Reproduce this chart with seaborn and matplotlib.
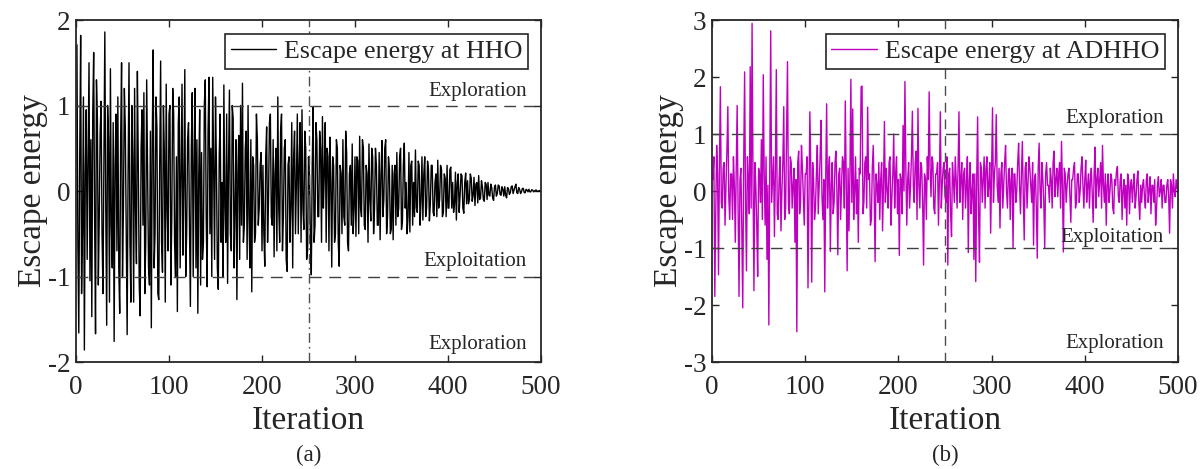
import matplotlib
matplotlib.use("Agg")
import matplotlib.pyplot as plt
import seaborn as sns
import pandas as pd
import numpy as np

# Escape energy, iterations 1..500
iterations = list(range(1, 501))

hho_energy = [
    1.71, -0.6, -1.66, 0.4, 1.82, -1.2, -0.45, 1.1, -1.86, 0.2, 0.95, -0.8, 0.35, 1.5, -1.05, 0.6, -1.47, 0.9, 1.62, -0.3,
    -1.67, 1.3, 0.85, -1.1, -0.3, 0.7, 1.05, -0.5, -1.2, 0.4, 1.86, -0.2, -1.57, 1.0, 0.6, -1.3, 1.43, -0.4, -0.9, 0.8,
    -1.76, 0.3, 0.9, -0.7, 1.1, -0.9, -1.43, 0.6, 1.5, -1.0, -0.2, 1.2, 0.75, -0.5, -1.68, 0.2, 1.5, -0.6, -1.3, 1.0,
    0.4, -1.3, 1.2, -0.2, -0.85, 1.4, 0.3, -1.1, -1.46, 0.5, 0.95, -0.4, 1.15, -1.2, -0.6, 1.3, 0.2, -0.9, -1.1, 0.7,
    -1.6, 0.6, 1.65, -0.9, -0.5, 1.1, 0.75, -1.2, -1.27, 0.3, 1.52, -0.6, -0.95, 1.0, 0.45, -1.3, 1.25, -0.2, -0.7, 0.9,
    1.0, -1.1, -0.3, 1.2, 0.9, -0.6, -1.0, 0.4, -1.41, 0.8, 1.1, -0.9, 0.2, 1.25, -0.75, 0.1, 1.42, -1.0, -0.5, 0.6,
    0.8, -0.4, -1.35, 0.5, 1.15, -1.0, 0.3, 1.2, -0.9, 0.6, -1.43, 0.2, 0.95, -1.1, 0.45, -0.8, -0.6, 1.0, 1.3, -0.3,
    -1.12, 0.7, 1.33, -0.5, 0.5, -1.0, 1.33, 0.2, -0.8, 1.1, 0.3, -0.9, -1.15, 0.4, 0.9, -0.6, 0.1, -1.0, 1.24, -0.2,
    -0.6, 0.9, -1.08, 0.3, 1.18, -0.5, -0.7, 1.0, 0.85, -0.9, -0.2, 0.6, -1.27, 0.2, 0.65, -0.8, 1.0, -0.4, 1.26, -0.6,
    -0.4, 0.5, 0.7, -0.8, 1.0, -0.3, -0.9, 0.6, -1.18, 0.4, 0.3, -0.6, -0.5, 0.9, 0.6, -0.4, -0.2, 0.3, 0.45, -0.7,
    0.3, -0.5, -0.88, 0.4, 0.75, -0.6, -0.1, 0.8, 0.9, -0.3, -0.4, 0.6, -0.77, 0.2, 0.5, -0.7, 1.1, -0.2, -0.6, 0.7,
    0.9, -0.7, -0.3, 0.5, 0.6, -0.8, -0.94, 0.3, 0.4, -0.6, -0.2, 0.8, -0.9, 0.4, 0.7, -0.5, 0.1, 0.9, -0.5, 0.3,
    0.8, -0.6, 0.95, -0.2, -0.45, 0.7, 0.5, -0.8, -0.7, 0.4, 0.2, -0.5, -0.98, 0.3, 0.98, -0.6, -0.4, 0.8, 0.6, -0.3,
    -0.3, 0.7, 0.5, -0.6, 0.87, -0.2, 0.2, 0.8, -0.6, 0.5, 0.4, -0.7, 0.63, 0.1, -0.89, 0.4, 0.3, -0.6, -0.5, 0.6,
    0.5, -0.6, -0.88, 0.3, 0.2, -0.5, 0.6, -0.3, -0.4, 0.7, 0.45, -0.6, -0.7, 0.2, 0.3, -0.4, 0.55, -0.5, -0.2, 0.4,
    -0.53, 0.4, 0.35, -0.5, 0.64, -0.2, -0.3, 0.6, 0.5, -0.4, -0.45, 0.3, 0.2, -0.6, 0.55, -0.1, -0.35, 0.5, 0.4, -0.5,
    -0.2, 0.5, 0.3, -0.4, -0.4, 0.45, -0.57, 0.2, 0.59, -0.3, -0.1, 0.5, 0.6, -0.5, -0.3, 0.4, 0.25, -0.5, -0.45, 0.3,
    -0.57, 0.2, 0.3, -0.4, 0.45, -0.3, -0.2, 0.4, 0.5, -0.45, -0.35, 0.3, 0.56, -0.2, 0.1, -0.5, -0.3, 0.45, -0.48, 0.3,
    0.35, -0.4, 0.1, -0.3, 0.48, -0.2, -0.25, 0.35, 0.3, -0.4, -0.1, 0.4, -0.34, 0.2, 0.4, -0.3, -0.2, 0.35, 0.25, -0.35,
    -0.15, 0.3, 0.3, -0.25, -0.29, 0.1, 0.2, -0.3, 0.36, -0.2, -0.1, 0.3, 0.25, -0.3, -0.25, 0.2, 0.15, -0.3, 0.3, -0.2,
    -0.2, 0.25, 0.28, -0.2, 0.1, -0.25, -0.15, 0.22, -0.34, 0.1, 0.2, -0.25, -0.05, 0.2, 0.18, -0.2, -0.26, 0.1, 0.21, -0.15,
    0.12, -0.15, -0.1, 0.2, 0.15, -0.12, -0.05, 0.16, -0.17, 0.08, 0.1, -0.14, 0.18, -0.1, -0.08, 0.12, 0.05, -0.1, -0.12, 0.1,
    0.08, -0.1, 0.1, -0.05, -0.06, 0.08, 0.04, -0.08, -0.11, 0.05, 0.07, -0.06, -0.03, 0.07, 0.06, -0.04, -0.05, 0.05, 0.02, -0.06,
    0.05, -0.05, -0.08, 0.04, 0.03, -0.04, -0.02, 0.05, 0.06, -0.03, 0.01, 0.05, 0.08, -0.02, -0.03, 0.04, 0.02, -0.03, -0.01, 0.03,
    0.03, -0.02, -0.02, 0.02, 0.01, -0.01, 0.02, -0.01, -0.01, 0.015, 0.01, -0.01, 0.0, 0.01, 0.01, -0.005, -0.005, 0.005, 0.0, 0.0,
]

adhho_energy = [
    0.2, 0.6, -1.85, -0.4, 0.8, 0.3, -1.47, 0.5, 1.83, -0.2, -0.3, 0.4, 0.5, -0.6, 0.1, 0.7, 1.48, -0.1, -0.5, 0.3,
    0.3, -0.5, 0.6, 0.1, -0.9, 0.4, 1.5, -0.3, -1.85, 0.2, 0.4, -0.7, -2.05, 0.5, 2.09, -0.2, -1.4, 0.6, 0.2, -0.4,
    2.18, -0.3, 2.94, 0.2, -1.75, 0.5, 0.1, -0.6, -1.5, 0.4, 0.3, -0.2, 0.9, -0.5, 2.04, 0.3, -0.6, 0.6, -1.2, 0.1,
    -2.35, 0.4, 2.81, -0.2, 0.2, 0.6, -0.8, 0.3, 2.13, -0.4, -0.5, 0.2, 0.6, -0.7, 0.0, 0.5, 1.48, -0.5, -0.3, 1.0,
    2.27, -0.2, -0.4, 0.6, 0.5, -0.3, 0.1, 0.4, -0.9, 0.2, -2.47, 0.5, 0.7, -0.4, -0.2, 0.8, 0.4, -0.1, -0.6, 0.3,
    0.3, 0.6, -1.7, -0.2, 1.39, 0.4, -1.6, 0.5, 0.2, -0.5, -0.3, 0.3, 0.8, -0.4, 0.1, 0.6, 1.24, -0.1, -0.5, 0.2,
    -1.77, 0.2, 1.53, -0.3, 0.3, 0.6, -1.06, 0.1, 0.5, -0.4, -0.2, 0.5, 0.7, 0.0, -1.12, 0.3, 0.4, -0.5, 0.1, 0.6,
    0.5, -0.3, 1.58, 0.2, -1.4, 0.4, -0.7, 0.3, 1.96, -0.2, 1.44, -0.5, 0.0, 0.6, -0.4, 0.2, -0.9, 0.4, 0.3, 1.83,
    1.84, -0.4, -0.19, 0.5, 0.6, -0.3, 1.47, 0.2, 0.3, -0.6, -0.5, 0.4, 0.8, 0.0, -1.24, 0.3, 0.1, -0.2, 0.5, -0.5,
    0.2, 0.5, -0.7, 0.1, 1.22, -0.2, 0.4, 0.0, -0.3, 0.5, 0.6, -0.6, -0.1, 0.3, 1.0, -0.3, 0.3, 0.6, -0.4, 0.2,
    -1.13, 0.3, 0.2, -0.4, 1.15, 0.0, 1.92, 0.4, -0.6, 0.2, 0.5, -0.3, 0.1, 0.6, 1.4, 0.1, -0.2, 0.5, 0.7, -0.5,
    1.45, 0.1, -0.3, 0.5, 0.4, -0.2, -1.3, 0.3, 0.2, -0.5, 0.6, 0.2, 1.74, 0.4, -0.1, 0.6, 0.5, -0.3, -0.4, 0.3,
    0.3, 0.5, -0.6, 0.2, 1.39, -0.3, 0.1, 0.4, 0.5, -0.1, -0.2, 0.6, -1.3, 0.3, 0.4, -0.4, -0.8, 0.5, 0.2, -0.2,
    0.6, 0.2, -0.3, 0.4, 1.39, -0.2, 0.2, 0.5, -0.5, 0.3, 0.4, -0.3, 0.1, 0.6, -1.08, 0.2, 0.5, -0.4, 0.0, 0.3,
    -1.2, 0.3, -1.59, 0.2, 1.3, -0.4, -1.25, 0.5, 0.4, -0.2, 0.2, 0.6, -0.3, 0.4, 0.6, -0.1, 0.1, 0.5, -0.74, 0.3,
    1.46, -0.2, 0.3, 0.5, 1.34, 0.1, -0.2, 0.4, -0.65, 0.3, 0.5, -0.3, 0.1, 0.5, 0.8, 0.0, -0.3, 0.3, 0.4, -0.5,
    0.2, 0.4, -1.0, 0.3, 0.3, -0.2, 0.0, 0.5, 0.84, 0.1, -0.4, 0.3, 0.87, -0.1, -0.86, 0.4, 0.5, -0.3, 0.1, 0.6,
    0.4, 0.1, -0.2, 0.5, -0.95, 0.2, 0.3, -0.3, -1.18, 0.4, 0.84, 0.0, -0.3, 0.5, 0.2, -0.2, -1.0, 0.3, 0.5, 0.1,
    0.1, -0.2, 0.4, 0.2, -0.3, 0.5, 0.7, -0.1, 0.2, 0.4, -0.1, 0.3, 0.5, -0.3, 0.87, 0.1, -1.07, 0.4, 0.3, -0.2,
    0.1, 0.3, 0.4, -0.1, -0.55, 0.2, 0.2, 0.4, 0.5, -0.3, -0.2, 0.3, 0.3, -0.2, 0.0, 0.4, 0.6, 0.1, -0.3, 0.2,
    0.54, -0.2, 0.1, 0.3, -0.3, 0.2, 0.4, -0.1, -0.55, 0.3, 0.77, -0.3, 0.2, 0.4, -0.1, 0.2, 0.5, -0.3, 0.8, 0.1,
    -0.2, 0.3, -0.6, 0.1, 0.3, -0.2, 0.0, 0.3, 0.2, -0.3, -0.4, 0.2, 0.1, 0.35, 0.43, -0.1, -0.2, 0.2, 0.3, -0.5,
    0.0, 0.2, -0.3, 0.1, -0.6, 0.3, 0.2, -0.4, 0.1, 0.2, -0.2, 0.1, 0.3, -0.3, -0.1, 0.2, 0.35, -0.2, -0.5, 0.1,
    -0.2, 0.1, 0.2, -0.1, -0.3, 0.2, 0.3, -0.2, 0.0, 0.25, -0.4, 0.1, 0.1, -0.2, 0.2, -0.6, -0.3, 0.1, 0.25, -0.1,
    0.0, 0.2, -0.3, 0.1, 0.1, -0.2, -0.2, 0.1, 0.2, -0.1, -0.74, 0.2, 0.1, -0.3, 0.3, 0.0, -0.1, 0.2, 0.05, 0.0,
]

panels = [
    ("(a)", hho_energy, "Escape energy at HHO", "black", 2, "-.",
     [(1.16, "Exploration"), (-0.83, "Exploitation"), (-1.8, "Exploration")]),
    ("(b)", adhho_energy, "Escape energy at ADHHO", "#c000c0", 3, "--",
     [(1.28, "Exploration"), (-0.82, "Exploitation"), (-2.67, "Exploration")]),
]

sns.set_style("ticks")
plt.rcParams["font.family"] = ["Liberation Serif", "DejaVu Serif"]

fig = plt.figure(figsize=(12.02, 4.69), dpi=100)
ax_pos = [[76 / 1202, 1 - 362 / 469, 465 / 1202, 342 / 469],
          [712 / 1202, 1 - 362 / 469, 466 / 1202, 342 / 469]]

for pos, (tag, energy, name, color, ylim, vstyle, notes) in zip(ax_pos, panels):
    ax = fig.add_axes(pos)
    df = pd.DataFrame({"Iteration": iterations, "Escape energy": energy})
    sns.lineplot(data=df, x="Iteration", y="Escape energy", color=color,
                 lw=1.0, ax=ax, label=name)

    for yv in (1, -1):
        ax.axhline(yv, color="0.25", lw=1.0, dashes=(8.5, 5.5), zorder=3)
    if vstyle == "-.":
        ax.axvline(250, color="0.3", lw=1.0, dashes=(7, 3, 1.2, 3), zorder=3)
    else:
        ax.axvline(250, color="0.3", lw=1.0, dashes=(7, 5), zorder=3)

    for yv, txt in notes:
        ax.text(485, yv, txt, ha="right", va="center", fontsize=15, zorder=4)

    ax.set_xlim(0, 500)
    ax.set_ylim(-ylim, ylim)
    ax.set_xticks(range(0, 501, 100))
    ax.set_yticks(range(-ylim, ylim + 1))
    ax.set_yticklabels([str(v) for v in range(-ylim, ylim + 1)])
    ax.tick_params(direction="in", top=True, right=True, length=5,
                   width=1.0, labelsize=19.5, color="0.15")
    ax.tick_params(axis="x", pad=9)
    ax.tick_params(axis="y", pad=4)
    for sp in ax.spines.values():
        sp.set_linewidth(1.3)
        sp.set_color("0.15")
    ax.set_xlabel("Iteration", fontsize=24, labelpad=4)
    ax.set_ylabel("Escape energy", fontsize=24, labelpad=0)

    leg = ax.legend(loc="upper right", bbox_to_anchor=(0.972, 0.959),
                    borderaxespad=0, fontsize=18.7, frameon=True, fancybox=False,
                    framealpha=1, edgecolor="0.15", handlelength=1.75,
                    handletextpad=0.3, borderpad=0.22)
    leg.get_frame().set_linewidth(1.2)

    fig.text(pos[0] + pos[2] / 2, 1 - 455 / 469, tag, ha="center",
             va="center", fontsize=16.5)

fig.savefig("out.png", dpi=100)
